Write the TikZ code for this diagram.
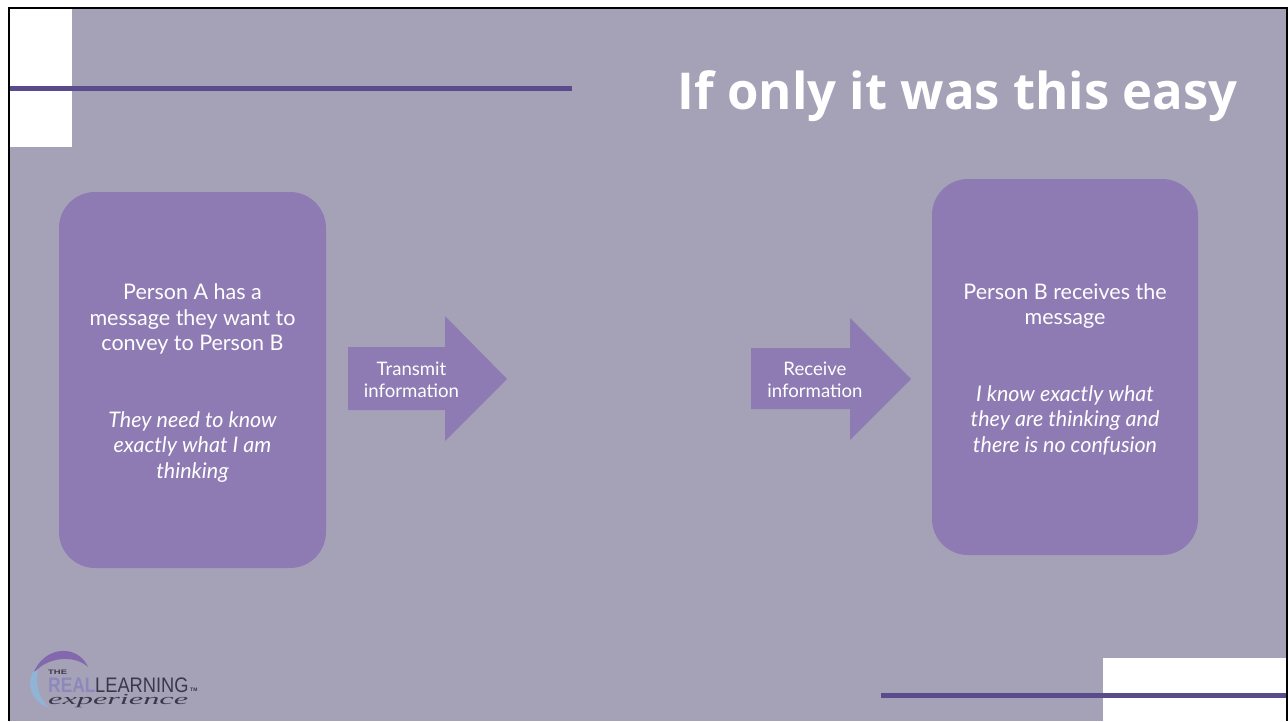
\documentclass[tikz,border=0pt]{standalone}
\usepackage{fontspec}
\setmainfont{Lato}
\newfontfamily\titlefont{Open Sans}
\newfontfamily\logofont{Liberation Sans}
\newfontfamily\logoscript{Liberation Serif}
\definecolor{bgc}{HTML}{A5A2B7}
\definecolor{boxc}{HTML}{8E7BB3}
\definecolor{linec}{HTML}{5A4C8C}
\definecolor{logoc}{HTML}{3A3848}
\definecolor{logorealc}{HTML}{8C88BC}
\definecolor{logoarc}{HTML}{8468AE}
\definecolor{logoarcb}{HTML}{8FB4D6}
\tikzset{
  card/.style={fill=boxc,draw=none,rounded corners=36pt},
  flow/.style={fill=boxc,draw=none},
  body/.style={text=white,align=center,font=\fontsize{21.5}{25.5}\selectfont,inner sep=0pt},
  bodyit/.style={text=white,align=center,font=\itshape\fontsize{21.5}{25.5}\selectfont,inner sep=0pt},
  flowtext/.style={text=white,align=center,font=\fontsize{18.6}{22}\selectfont,inner sep=0pt},
  rulebar/.style={fill=linec,draw=none},
  blank/.style={fill=white,draw=none}
}
\begin{document}
\begin{tikzpicture}[x=1pt,y=-1pt]
\useasboundingbox (0,0) rectangle (1288,721);
\fill[white] (0,0) rectangle (1288,721);
\fill[bgc] (8,7) rectangle (1288,721);
\fill[blank] (10,9) rectangle (72,147);
\fill[blank] (1103,658) rectangle (1286,721);
\fill[rulebar] (10,86) rectangle (572,91);
\fill[rulebar] (881,693) rectangle (1286,698);
\fill[black] (8,7) rectangle (10,721);
\fill[black] (8,7) rectangle (1288,9);
\fill[black] (1285.5,7) rectangle (1288,721);
\node[anchor=east,text=white,inner sep=0pt,font=\titlefont\bfseries\fontsize{52}{60}\selectfont] (title) at (1238,96) {\resizebox{560pt}{!}{If only it was this easy}};
\draw[card] (59,192) rectangle (326,568);
\draw[card] (932,179) rectangle (1198,555);
\node[body] (a1) at (192.5,319) {Person A has a\\message they want to\\convey to Person B};
\node[bodyit] (a2) at (192.5,447) {They need to know\\exactly what I am\\thinking};
\node[body] (b1) at (1065,306) {Person B receives the\\message};
\node[bodyit] (b2) at (1065,420) {I know exactly what\\they are thinking and\\there is no confusion};
\fill[flow] (348,347) -- (445,347) -- (445,316) -- (507,379) -- (445,441) -- (445,410) -- (348,410) -- cycle;
\fill[flow] (751,348) -- (850,348) -- (850,318) -- (911,379) -- (850,440) -- (850,409) -- (751,409) -- cycle;
\node[flowtext] (t1) at (411.5,380) {Transmit\\information};
\node[flowtext] (t2) at (815,380) {Receive\\information};
% logo
\fill[logoarc] (88,667) .. controls (78,644) and (44,645) .. (33,674) .. controls (46,657) and (74,654) .. (88,667) -- cycle;
\fill[logoarcb] (33,672) .. controls (25,688) and (34,703) .. (50,708) .. controls (40,700) and (35,688) .. (38,670) -- cycle;
\node[anchor=west,inner sep=0pt,text=logoc,font=\logofont\bfseries\fontsize{6.5}{8}\selectfont] (logothe) at (48,672.5) {\scalebox{1.45}[1]{THE}};
\node[anchor=west,inner sep=0pt,text=logorealc,font=\logofont\bfseries\fontsize{21}{22}\selectfont] (logoreal) at (48,685.5) {\scalebox{.83}[1]{REAL}};
\node[anchor=west,inner sep=0pt,text=logoc,font=\logofont\fontsize{21}{22}\selectfont] (logolearn) at (95,685.5) {\scalebox{.87}[1]{LEARNING}};
\node[anchor=west,inner sep=0pt,text=logoc,font=\logofont\bfseries\fontsize{5}{6}\selectfont] (logotm) at (190,690) {TM};
\node[anchor=west,inner sep=0pt,text=logoc,font=\logoscript\itshape\fontsize{19}{22}\selectfont] (logoexp) at (48,701) {\scalebox{1.7}[.8]{experience}};
\end{tikzpicture}
\end{document}
